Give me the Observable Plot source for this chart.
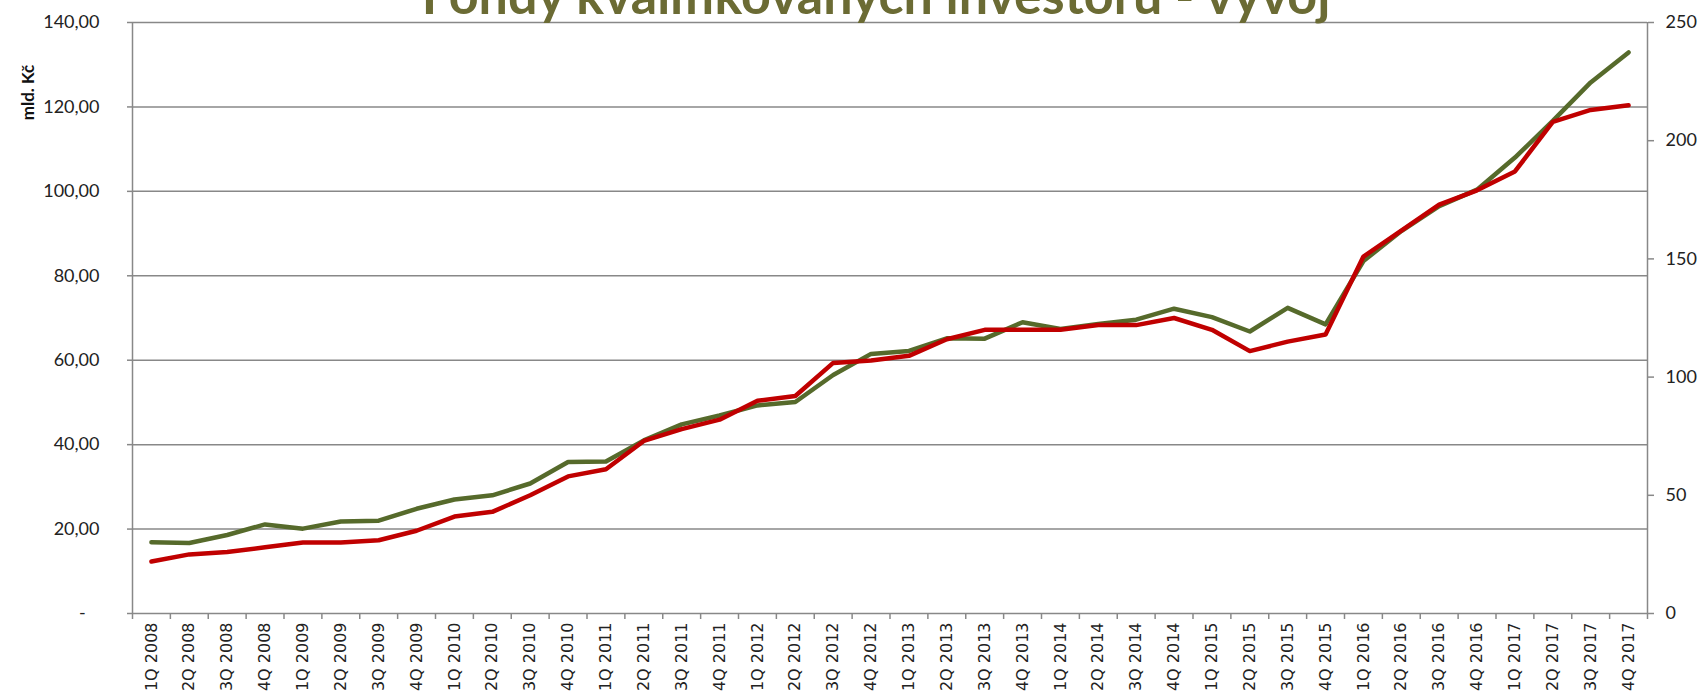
<!DOCTYPE html>
<html><head><meta charset="utf-8">
<script src="https://cdn.jsdelivr.net/npm/d3@7"></script>
<script src="https://cdn.jsdelivr.net/npm/@observablehq/plot@0.6"></script>
<style>
body{margin:0;background:#fff;overflow:hidden}
#chart{position:relative;width:1699px;height:694px;overflow:hidden}
</style>
</head><body><div id="chart"></div>
<script>
const title = "Fondy kvalifikovaných investorů - vývoj";
const yLabel = "mld. Kč";
const quarters = [
  "1Q 2008","2Q 2008","3Q 2008","4Q 2008",
  "1Q 2009","2Q 2009","3Q 2009","4Q 2009",
  "1Q 2010","2Q 2010","3Q 2010","4Q 2010",
  "1Q 2011","2Q 2011","3Q 2011","4Q 2011",
  "1Q 2012","2Q 2012","3Q 2012","4Q 2012",
  "1Q 2013","2Q 2013","3Q 2013","4Q 2013",
  "1Q 2014","2Q 2014","3Q 2014","4Q 2014",
  "1Q 2015","2Q 2015","3Q 2015","4Q 2015",
  "1Q 2016","2Q 2016","3Q 2016","4Q 2016",
  "1Q 2017","2Q 2017","3Q 2017","4Q 2017"
];
// assets, mld. Kč (left axis)
const assets = [16.9,16.7,18.6,21.1, 20.1,21.8,22.0,24.8, 27.0,28.0,30.8,35.9,
  36.0,41.0,44.8,46.9, 49.3,50.1,56.5,61.5, 62.2,65.2,65.1,69.0,
  67.4,68.6,69.6,72.2, 70.2,66.8,72.4,68.5, 83.5,90.6,96.5,100.4,
  108.0,116.7,125.8,132.9];
// number of funds (right axis)
const funds = [22,25,26,28, 30,30,31,35, 41,43,50,58, 61,73,78,82, 90,92,106,107,
  109,116,120,120, 120,122,122,125, 120,111,115,118, 151,162,173,179, 187,208,213,215];
const leftTicks = [0,20,40,60,80,100,120,140];
const rightTicks = [0,50,100,150,200,250];

const leftMax = 140, rightMax = 250;
const toLeft = v => v * leftMax / rightMax;
const fromLeft = v => v * rightMax / leftMax;
const data = quarters.map((q, i) => ({q, i, assets: assets[i], funds: funds[i]}));
const gridColor = "#888888";
const fmtLeft = v => v === 0 ? "-\u00a0\u00a0\u00a0" : d3.format(".2f")(v).replace(".", ",");

const chart = Plot.plot({
  width: 1699, height: 694,
  marginTop: 22, marginBottom: 81, marginLeft: 132, marginRight: 52,
  style: {fontFamily: "Lato", background: "white", overflow: "visible", color: "#222"},
  x: {type: "linear", domain: [0, quarters.length], axis: null},
  y: {domain: [0, leftMax], axis: null},
  marks: [
    Plot.ruleY(leftTicks, {stroke: gridColor, strokeWidth: 1.5}),
    Plot.ruleX([0, quarters.length], {stroke: gridColor, strokeWidth: 1.5}),
    Plot.axisX({ticks: d3.range(quarters.length + 1), tickSize: 6, tickFormat: () => "", stroke: gridColor, strokeWidth: 1.5, label: null}),
    Plot.axisX({ticks: quarters.map((q, i) => i + 0.5), tickSize: 0, tickPadding: 9,
      tickFormat: v => quarters[Math.round(v - 0.5)], tickRotate: -90,
      fontSize: 16, fontFamily: "DejaVu Sans", fill: "#222", label: null,
      style: {letterSpacing: "0.2px"}}),
    Plot.axisY({ticks: leftTicks, tickSize: 5, tickPadding: 28, tickFormat: fmtLeft,
      fontSize: 18, stroke: gridColor, strokeWidth: 1.5, fill: "#222", label: null}),
    Plot.axisY({anchor: "right", ticks: rightTicks.map(toLeft), tickSize: 6, tickPadding: 12,
      tickFormat: v => String(Math.round(fromLeft(v))),
      fontSize: 18, stroke: gridColor, strokeWidth: 1.5, fill: "#222", label: null}),
    Plot.line(data, {x: d => d.i + 0.5, y: "assets", stroke: "#566a2b", strokeWidth: 4.5, strokeLinejoin: "round", strokeLinecap: "round"}),
    Plot.line(data, {x: d => d.i + 0.5, y: d => toLeft(d.funds), stroke: "#C00000", strokeWidth: 4.5, strokeLinejoin: "round", strokeLinecap: "round"}),
    Plot.text([yLabel], {frameAnchor: "top-left", dx: -111, dy: 70, rotate: -90, textAnchor: "middle",
      fontWeight: "bold", fontSize: 17, fill: "#111"}),
    Plot.text([title], {frameAnchor: "top", dx: -14, dy: -9, lineAnchor: "bottom",
      fontSize: 52, fontWeight: "bold", fill: "#6B6B34"})
  ]
});
document.getElementById("chart").appendChild(chart);
</script>
</body></html>
